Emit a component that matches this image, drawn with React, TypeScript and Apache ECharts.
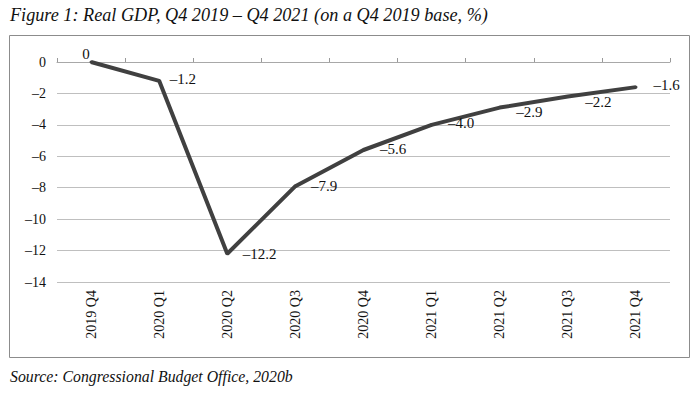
import React, { useEffect, useRef } from "react";
import * as echarts from "echarts";

const categories = ["2019 Q4", "2020 Q1", "2020 Q2", "2020 Q3", "2020 Q4", "2021 Q1", "2021 Q2", "2021 Q3", "2021 Q4"];
const gdpValues = [0, -1.2, -12.2, -7.9, -5.6, -4.0, -2.9, -2.2, -1.6];
const labelOffsets = [[-5, 3], [1, -2], [6, 0], [6, 0], [7, -1], [7, -2], [7, 4], [8, 5], [8, -2]];
const yMin = -14;
const yMax = 0;
const yInterval = 2;
const titleText = "Figure 1: Real GDP, Q4 2019 – Q4 2021 (on a Q4 2019 base, %)";
const sourceText = "Source: Congressional Budget Office, 2020b";

const FONT = "'Liberation Serif', 'DejaVu Serif', serif";
const fmt = (v: number) => (v === 0 ? "0" : (v < 0 ? "\u2013" : "") + Math.abs(v).toFixed(1));

export default function App() {
  const ref = useRef<HTMLDivElement>(null);
  useEffect(() => {
    document.body.style.margin = "0";
    const chart = echarts.init(ref.current!, null, { renderer: "svg" });
    chart.setOption({
      animation: false,
      backgroundColor: "#ffffff",
      textStyle: { fontFamily: FONT },
      grid: { left: 57, right: 30, top: 62, bottom: 118, containLabel: false },
      graphic: [
        {
          type: "rect",
          shape: { x: 9.5, y: 35.5, width: 680, height: 322 },
          style: { fill: "none", stroke: "#8c8c8c", lineWidth: 1 },
          silent: true,
        },
        {
          type: "text",
          left: 10,
          top: 6,
          style: { text: titleText, font: `italic 18.2px ${FONT}`, fill: "#111" },
        },
        {
          type: "text",
          left: 10,
          top: 368,
          style: { text: sourceText, font: `italic 15.8px ${FONT}`, fill: "#111" },
        },
      ],
      xAxis: [
        {
          type: "category",
          data: categories,
          position: "bottom",
          boundaryGap: true,
          axisLine: { show: false, onZero: false },
          axisTick: { show: false },
          axisLabel: { rotate: 90, margin: 8, fontSize: 14, color: "#111", fontFamily: FONT },
          splitLine: { show: false },
        },
        {
          type: "category",
          data: categories,
          position: "top",
          boundaryGap: true,
          axisLine: { show: true, onZero: true, lineStyle: { color: "#a8a8a8", width: 1 } },
          axisTick: { show: true, inside: false, length: 4, lineStyle: { color: "#999999", width: 1 } },
          axisLabel: { show: false },
          splitLine: { show: false },
        },
      ],
      yAxis: {
        type: "value",
        min: yMin,
        max: yMax,
        interval: yInterval,
        axisLine: { show: false },
        axisTick: { show: false },
        axisLabel: { formatter: (v: number) => (v === 0 ? "0" : "\u2013" + Math.abs(v)), fontSize: 14, color: "#111", margin: 11, fontFamily: FONT },
        splitLine: { lineStyle: { color: "#bfbfbf", width: 1 } },
      },
      series: [
        {
          type: "line",
          xAxisIndex: 0,
          data: gdpValues.map((v, i) => ({
            value: v,
            label: {
              position: i === 0 ? "top" : "right",
              distance: i === 0 ? 2 : 8,
              offset: labelOffsets[i],
            },
          })),
          showSymbol: true,
          symbol: "circle",
          symbolSize: 3,
          lineStyle: { color: "#404040", width: 4 },
          itemStyle: { color: "#404040" },
          label: {
            show: true,
            distance: 8,
            formatter: (p: any) => fmt(p.value),
            fontSize: 15,
            color: "#111",
            fontFamily: FONT,
          },
        },
      ],
    });
    return () => chart.dispose();
  }, []);
  return <div ref={ref} style={{ width: 700, height: 400 }} />;
}
